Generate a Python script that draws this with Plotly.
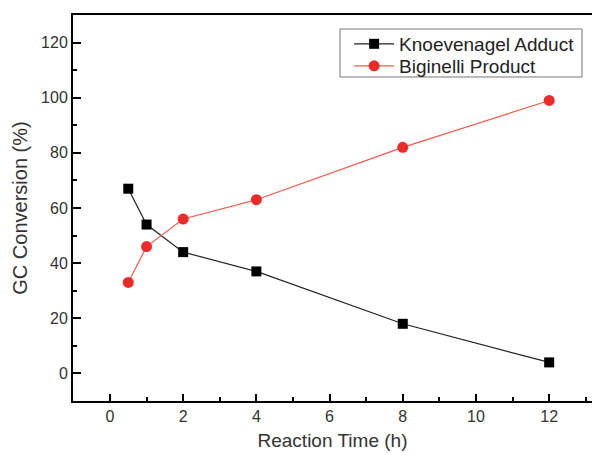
import plotly.graph_objects as go

time_h = [0.5, 1, 2, 4, 8, 12]
knoevenagel = [67, 54, 44, 37, 18, 4]
biginelli = [33, 46, 56, 63, 82, 99]

fig = go.Figure()
fig.add_trace(go.Scatter(
    x=time_h, y=knoevenagel, name="Knoevenagel Adduct", mode="lines+markers",
    line=dict(color="#222222", width=1.2),
    marker=dict(symbol="square", size=10, color="#000000"),
    legend="legend",
))
fig.add_trace(go.Scatter(
    x=time_h, y=biginelli, name="Biginelli Product", mode="lines+markers",
    line=dict(color="#f25a48", width=1.2),
    marker=dict(symbol="circle", size=11, color="#ec2a2a"),
    legend="legend2",
))

font_family = "Liberation Sans, Arial, sans-serif"
leg_common = dict(xanchor="left", yanchor="middle", borderwidth=0,
                  bgcolor="rgba(0,0,0,0)", font=dict(size=19, color="#222222"),
                  itemwidth=40)
fig.update_layout(
    width=592, height=455,
    margin=dict(l=73, r=0, t=15, b=54),
    paper_bgcolor="white", plot_bgcolor="white",
    font=dict(family=font_family, color="#333333"),
    showlegend=True,
    legend=dict(x=0.532, y=0.925, **leg_common),
    legend2=dict(x=0.532, y=0.868, **leg_common),
    shapes=[dict(type="rect", xref="paper", yref="paper",
                 x0=0.5145, x1=0.9807, y0=0.8394, y1=0.9637,
                 line=dict(color="#777777", width=1), fillcolor="white", layer="below")],
)
fig.update_xaxes(
    range=[-1.01, 13.17], tickmode="linear", tick0=0, dtick=2,
    showgrid=False, zeroline=False,
    showline=True, linecolor="black", linewidth=2, mirror=True,
    ticks="inside", ticklen=7, tickwidth=2, tickcolor="black",
    minor=dict(ticks="inside", ticklen=4, tickwidth=1.5, tickcolor="black", dtick=1, tick0=0, showgrid=False),
    tickfont=dict(size=16, color="#333333"),
    title=dict(text="Reaction Time (h)", font=dict(size=19, color="#333333"), standoff=9),
)
fig.update_yaxes(
    range=[-10, 130], tickmode="linear", tick0=0, dtick=20,
    showgrid=False, zeroline=False,
    showline=True, linecolor="black", linewidth=2, mirror=False,
    ticks="inside", ticklen=8, tickwidth=2, tickcolor="black",
    minor=dict(ticks="inside", ticklen=4, tickwidth=1.5, tickcolor="black", dtick=10, tick0=0, showgrid=False),
    tickfont=dict(size=16, color="#333333"),
    title=dict(text="GC Conversion (%)", font=dict(size=20, color="#333333"), standoff=8),
)

fig.write_html("out.html", config={"displayModeBar": False},
               post_script="document.body.style.margin='0';")
